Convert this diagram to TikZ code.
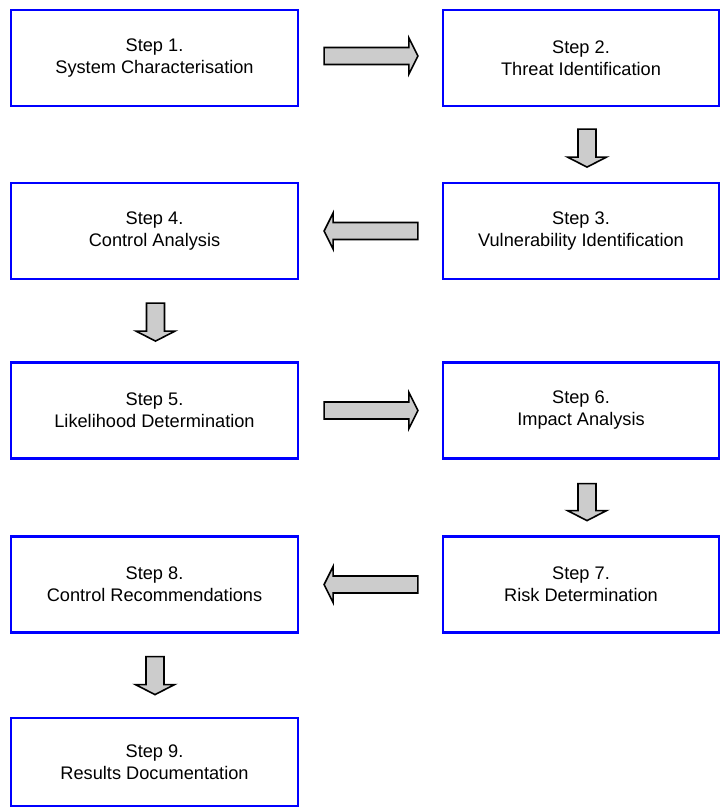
\documentclass[tikz,border=0pt]{standalone}
\usepackage{fontspec}
\setmainfont{Liberation Sans}
\usetikzlibrary{calc}
\definecolor{boxblue}{RGB}{0,0,255}
\definecolor{arrowgray}{RGB}{204,204,204}
\tikzset{
  stepbox/.style={draw=boxblue, line width=2.2pt, rectangle, align=center,
    font=\fontsize{18.2}{22}\selectfont, inner sep=0pt},
  leftbox/.style={stepbox, minimum width=287pt, minimum height=96pt},
  rightbox/.style={stepbox, minimum width=276pt, minimum height=96pt},
  blk/.style={draw=black, line width=1.6pt, fill=arrowgray, line join=miter}
}
% horizontal block arrow: #1 tail point, #2 tip point, #3 direction (+1 right, -1 left)
\newcommand\hblock[3]{%
  \draw[blk] ($(#1)+(0,8.5)$) -- ($(#2)+(-9*#3,8.5)$) -- ($(#2)+(-9*#3,18)$) -- (#2)
    -- ($(#2)+(-9*#3,-18)$) -- ($(#2)+(-9*#3,-8.5)$) -- ($(#1)+(0,-8.5)$) -- cycle;}
% vertical (downward) block arrow: #1 tail point, #2 tip point
\newcommand\vblock[2]{%
  \draw[blk] ($(#1)+(-9,0)$) -- ($(#2)+(-9,-10)$) -- ($(#2)+(-19.5,-10)$) -- (#2)
    -- ($(#2)+(19.5,-10)$) -- ($(#2)+(9,-10)$) -- ($(#1)+(9,0)$) -- cycle;}
\begin{document}
\begin{tikzpicture}[x=1pt,y=-1pt]
\useasboundingbox (0,0) rectangle (720,808);
\fill[white] (0,0) rectangle (720,808);
% boxes
\node[leftbox]  (s1) at (154.5,58)    {Step 1.\\System Characterisation};
\node[rightbox] (s2) at (581,58)      {Step 2.\\Threat Identification};
\node[rightbox] (s3) at (581,231)     {Step 3.\\Vulnerability Identification};
\node[leftbox]  (s4) at (154.5,231)   {Step 4.\\Control Analysis};
\node[leftbox]  (s5) at (154.5,410.5) {Step 5.\\Likelihood Determination};
\node[rightbox] (s6) at (581,410.5)   {Step 6.\\Impact Analysis};
\node[rightbox] (s7) at (581,584.5)   {Step 7.\\Risk Determination};
\node[leftbox]  (s8) at (154.5,584.5) {Step 8.\\Control Recommendations};
\node[leftbox, minimum height=88pt] (s9) at (154.5,762) {Step 9.\\Results Documentation};
% arrow end points
\coordinate (a12t) at ($(s1.east)+(25,-2)$);
\coordinate (a12h) at ($(s2.west)+(-24,-2)$);
\coordinate (a23t) at ($(s2.south)+(6,22)$);
\coordinate (a23h) at ($(s2.south)+(6,60)$);
\coordinate (a34t) at ($(s3.west)+(-24,0)$);
\coordinate (a34h) at ($(s4.east)+(25,0)$);
\coordinate (a45t) at ($(s4.south)+(1,23)$);
\coordinate (a45h) at ($(s4.south)+(1,61)$);
\coordinate (a56t) at ($(s5.east)+(25,0)$);
\coordinate (a56h) at ($(s6.west)+(-24,0)$);
\coordinate (a67t) at ($(s6.south)+(6,24)$);
\coordinate (a67h) at ($(s6.south)+(6,61)$);
\coordinate (a78t) at ($(s7.west)+(-24,0)$);
\coordinate (a78h) at ($(s8.east)+(25,0)$);
\coordinate (a89t) at ($(s8.south)+(0.5,23)$);
\coordinate (a89h) at ($(s8.south)+(0.5,61)$);
% block arrows
\hblock{a12t}{a12h}{1}
\vblock{a23t}{a23h}
\hblock{a34t}{a34h}{-1}
\vblock{a45t}{a45h}
\hblock{a56t}{a56h}{1}
\vblock{a67t}{a67h}
\hblock{a78t}{a78h}{-1}
\vblock{a89t}{a89h}
\end{tikzpicture}
\end{document}
